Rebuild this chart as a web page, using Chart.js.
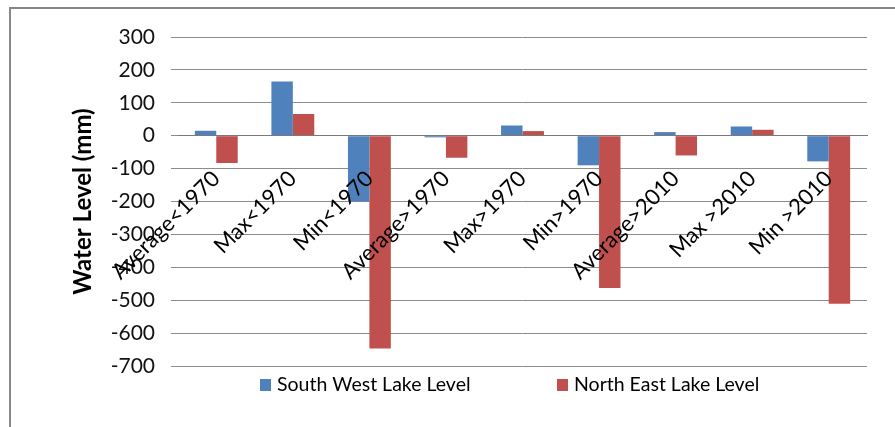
<!DOCTYPE html>
<html><head><meta charset="utf-8">
<script src="https://cdn.jsdelivr.net/npm/chart.js@4/dist/chart.umd.min.js"></script>
<style>
html,body{margin:0;padding:0;background:#fff;}
#wrap{position:relative;width:895px;height:427px;overflow:hidden;background:#fff;}
#frame{position:absolute;left:9px;top:7px;width:900px;height:440px;border-left:2px solid #878787;border-top:2px solid #878787;box-sizing:border-box;}
canvas{position:absolute;left:0;top:0;}
</style></head><body>
<div id="wrap"><div id="frame"></div><canvas id="c" width="895" height="427"></canvas></div>
<script>
const categories = ['Average<1970','Max<1970','Min<1970','Average>1970','Max>1970','Min>1970','Average>2010','Max >2010','Min >2010'];
const seriesNames = ['South West Lake Level','North East Lake Level'];
const southWest = [15, 165, -200, -5, 31, -90, 11, 28, -78];
const northEast = [-83, 66, -647, -67, 14, -463, -60, 18, -511];
const seriesColors = ['#4F81BD','#C0504D'];
const yTitle = 'Water Level (mm)';

const FONT = 'Lato';

const legendPlugin = {
  id: 'customLegend',
  afterDraw(chart) {
    const c = chart.ctx;
    const ca = chart.chartArea;
    const offsets = [82, 379];
    const yMid = 385;
    c.save();
    c.font = '19.5px ' + FONT;
    c.textBaseline = 'middle';
    c.textAlign = 'left';
    chart.data.datasets.forEach((ds, i) => {
      const x = ca.left + offsets[i];
      c.fillStyle = ds.backgroundColor;
      c.fillRect(x, yMid - 6, 11, 12);
      c.fillStyle = '#000';
      c.fillText(ds.label, x + 17, yMid);
    });
    c.restore();
  }
};

new Chart(document.getElementById('c'), {
  type: 'bar',
  data: {
    labels: categories,
    datasets: [
      {label: seriesNames[0], data: southWest, backgroundColor: seriesColors[0]},
      {label: seriesNames[1], data: northEast, backgroundColor: seriesColors[1]}
    ]
  },
  options: {
    responsive: false,
    animation: false,
    layout: {padding: {left: 65, top: 37, right: 28, bottom: 61}},
    datasets: {bar: {categoryPercentage: 0.56, barPercentage: 1}},
    plugins: {legend: {display: false}, tooltip: {enabled: false}},
    scales: {
      x: {
        position: {y: 0},
        grid: {display: false, drawTicks: false},
        border: {display: true, color: '#7a7a7a', width: 1, z: 1},
        ticks: {z: 2, minRotation: 45, maxRotation: 45, autoSkip: false, padding: 30, color: '#000', font: {family: FONT, size: 22}}
      },
      y: {
        min: -700, max: 300,
        ticks: {stepSize: 100, padding: 16, color: '#111', font: {family: FONT, size: 21}},
        grid: {color: '#8c8c8c', lineWidth: 1, tickLength: 7},
        border: {display: false},
        title: {display: true, text: yTitle, color: '#000', font: {family: FONT, size: 24, weight: 'bold'}},
        afterFit(s) { s.width = 113; }
      }
    }
  },
  plugins: [legendPlugin]
});
</script>
</body></html>
